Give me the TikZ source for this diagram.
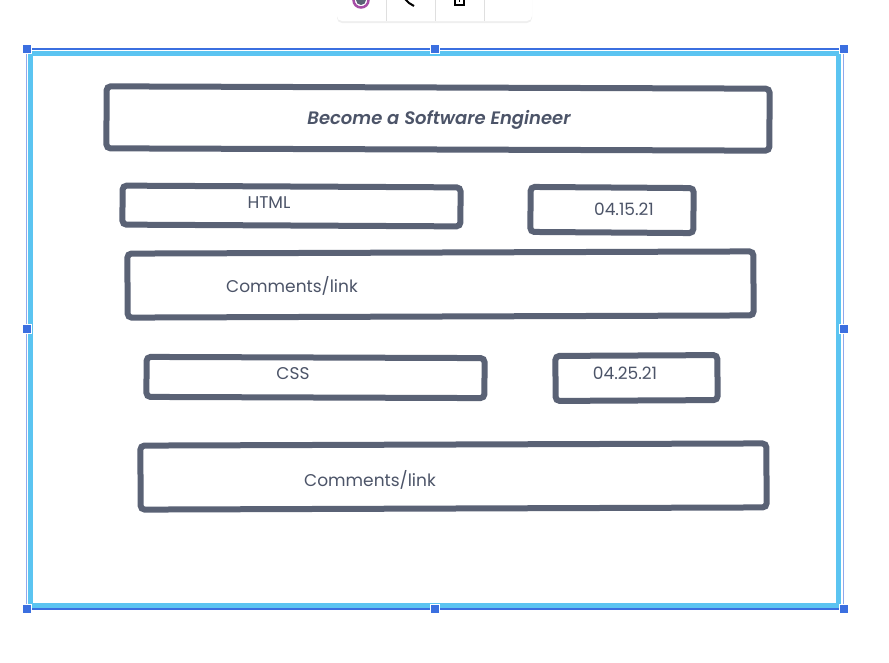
\documentclass[tikz,border=0pt]{standalone}
\usepackage{fontspec}
\setmainfont{Poppins}
\newfontfamily\titlefont{Poppins SemiBold Italic}
\usetikzlibrary{shadows}
\definecolor{boxgray}{HTML}{5A6275}
\definecolor{txtgray}{HTML}{4C5468}
\definecolor{selblue}{HTML}{5BC4F1}
\definecolor{handleblue}{HTML}{3B6FE0}
\definecolor{thinblue}{HTML}{8FA8EC}
\tikzset{
  sketchbox/.style={draw=boxgray, line width=6pt, rounded corners=4pt, inner sep=0pt},
  lbl/.style={text=txtgray, font=\fontsize{17}{20}\selectfont, inner sep=0pt},
  handle/.style={fill=handleblue, draw=white, line width=0.6pt, minimum size=9pt, inner sep=0pt}
}
\begin{document}
\begin{tikzpicture}[x=1pt,y=-1pt]
        \useasboundingbox[fill=white](0,0) rectangle (889,662);
        % toolbar cut off at the top
        \begin{scope}
        \clip(0,0) rectangle (889,662);
        \node[fill=white, rounded corners=5pt, minimum width=195pt, minimum height=36pt,
              drop shadow={opacity=0.12, shadow xshift=0pt, shadow yshift=-2pt}] (toolbar) at (434.5,3) {};
        \foreach \dx in {386,435,484}
            \draw[gray!25, line width=0.8pt](\dx,-10)--(\dx,21);
        \draw[line width=2.5pt, violet!70](361,0) circle (7.5pt);
        \fill[boxgray](361,0) circle (5pt);
        \draw[black, line width=2pt](404,-2)--(409,3)--(414,6);
        \draw[black, line width=2pt](455,-4)--(455,5)--(464,5)--(464,-4);
        \fill[black](458.8,-2) rectangle (460.2,2);
        \end{scope}
        % selection frame
        \draw[selblue, line width=5pt](30.5,53) rectangle (838,605.5);
        \draw[thinblue, line width=1.2pt](26.5,49) rectangle (843.5,609);
        \draw[handleblue, line width=1.2pt](26.5,49)--(843.5,49);
        \draw[handleblue, line width=1.2pt](26.5,609)--(843.5,609);
        \foreach \hx/\hy in {26.5/49, 434.5/49, 843.5/49, 26.5/329, 843.5/329, 26.5/609, 434.5/609, 843.5/609}
            \node[handle] at (\hx,\hy) {};
        % boxes
        \node[sketchbox, minimum width=663pt, minimum height=62pt, rotate=-0.2] (title) at (438,118.5) {};
        \node[sketchbox, minimum width=338pt, minimum height=39pt, rotate=-0.3] (html) at (291.5,206) {};
        \node[sketchbox, minimum width=163pt, minimum height=45pt, rotate=-0.4] (htmldate) at (612,210) {};
        \node[sketchbox, minimum width=626pt, minimum height=64pt, rotate=0.2] (htmlnote) at (440.5,284.5) {};
        \node[sketchbox, minimum width=338pt, minimum height=40pt, rotate=-0.2] (css) at (315.5,377.5) {};
        \node[sketchbox, minimum width=162pt, minimum height=45pt, rotate=0.3] (cssdate) at (636.5,378) {};
        \node[sketchbox, minimum width=626pt, minimum height=64pt, rotate=0.2] (cssnote) at (453.5,476.5) {};
        % texts
        \node[lbl, font=\fontsize{18}{21}\titlefont] at (439,119.5) {Become a Software Engineer};
        \node[lbl] at (269,202.5) {HTML};
        \node[lbl] at (624,209.5) {04.15.21};
        \node[lbl] at (292,285.5) {Comments/link};
        \node[lbl] at (293,373.5) {CSS};
        \node[lbl] at (625,373.5) {04.25.21};
        \node[lbl] at (370,479.5) {Comments/link};
\end{tikzpicture}
\end{document}
